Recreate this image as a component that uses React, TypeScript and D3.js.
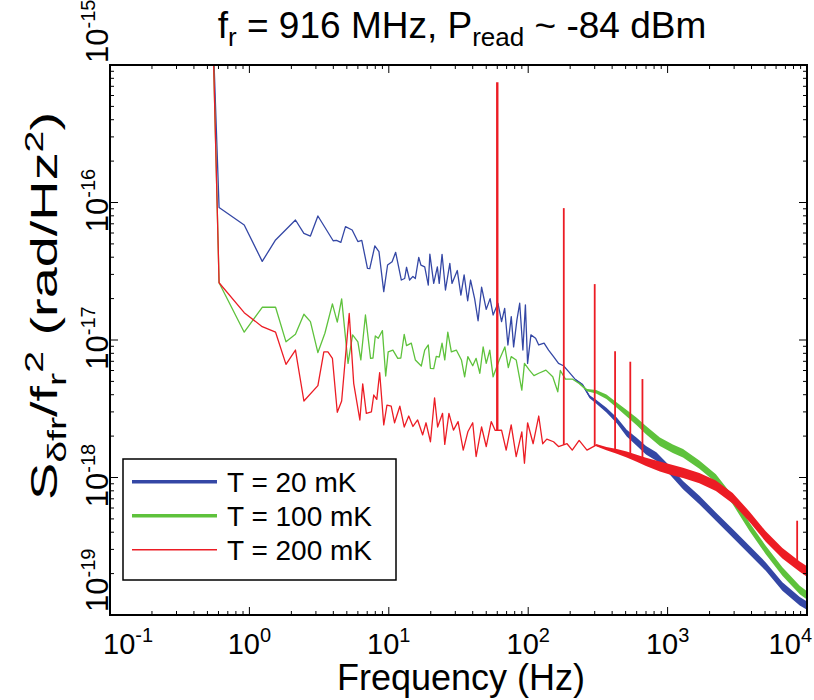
import React from 'react';
import * as d3 from 'd3';

const FONT = "'Liberation Sans', Arial, Helvetica, sans-serif";

// ---------- data ----------
const xTickExponents = [-1, 0, 1, 2, 3, 4];
const yTickExponents = [-19, -18, -17, -16, -15];
const seriesNames = ['T = 20 mK', 'T = 100 mK', 'T = 200 mK'];
const seriesColors = ['#3447a5', '#5ec23c', '#ec1c24'];

// T = 20 mK (blue): sparse low-frequency part
const blueFreq = [0.545, 0.606, 0.918, 1.236, 1.541, 2.14, 2.46, 2.74, 3.1, 3.99, 4.22, 4.53, 4.89, 5.46, 6.0, 6.4, 7.03, 7.3, 7.94, 8.5, 9.2, 9.8, 10.56, 11.2, 12.3, 13.0, 13.4, 14.1, 14.9, 15.5, 16.4, 17.0, 18.1, 19.2, 19.7, 21, 22.3, 23.0, 24.1, 25.5, 27.4, 28.4, 31.0, 32.9, 34.7, 36.8, 38.6, 41.3, 43.7, 46.3, 50.0, 53.3, 56.0, 60.7, 64.4, 67.8, 71.5, 75.6, 78.6, 83, 86.9, 91.6, 95.5, 99, 104.6, 113, 119, 130, 140, 152, 165, 179, 195];
const blueVal = [2e-15, 9.2e-17, 6.86e-17, 3.73e-17, 5.34e-17, 7.46e-17, 5.97e-17, 5.7e-17, 7.98e-17, 5.27e-17, 5.3e-17, 5.13e-17, 6.67e-17, 6.31e-17, 5.2e-17, 5.3e-17, 3.32e-17, 3.3e-17, 4.83e-17, 4.39e-17, 2.25e-17, 3.51e-17, 3.71e-17, 4.34e-17, 2.73e-17, 2.8e-17, 3.38e-17, 2.73e-17, 2.9e-17, 2.8e-17, 3.99e-17, 3.5e-17, 3.4e-17, 2.51e-17, 4.21e-17, 2.58e-17, 3.4e-17, 2.58e-17, 4.2e-17, 2.31e-17, 3.61e-17, 2.58e-17, 3.2e-17, 2.12e-17, 2.98e-17, 1.93e-17, 2.73e-17, 1.99e-17, 1.38e-17, 2.42e-17, 1.67e-17, 2.0e-17, 1.52e-17, 1.85e-17, 1.36e-17, 1.7e-17, 9.2e-18, 1.48e-17, 8.9e-18, 1.4e-17, 1.85e-17, 8.45e-18, 1.8e-17, 6.76e-18, 1.09e-17, 1.03e-17, 9.2e-18, 9.5e-18, 8.45e-18, 7.57e-18, 6.76e-18, 6.5e-18, 5.89e-18];
// blue: dense high-frequency part (centre of the noise band)
const blueDenseFreq = [219, 246, 276, 307, 364, 432, 509, 600, 700, 830, 980, 1290, 1690, 2220, 2930, 3860, 5060, 6660, 8870, 10000];
const blueDenseVal = [5.13e-18, 4.71e-18, 3.87e-18, 3.56e-18, 3.09e-18, 2.6e-18, 2.1e-18, 1.82e-18, 1.58e-18, 1.42e-18, 1.2e-18, 8.8e-19, 6.86e-19, 5.19e-19, 3.93e-19, 2.97e-19, 2.25e-19, 1.61e-19, 1.26e-19, 1.17e-19];

// T = 100 mK (green)
const greenFreq = [0.545, 0.606, 0.918, 1.236, 1.541, 1.83, 2.14, 2.46, 2.74, 3.1, 3.48, 3.94, 4.27, 4.59, 5.1, 5.5, 6.0, 6.3, 6.8, 7.4, 7.7, 8.0, 8.4, 9.0, 9.5, 9.9, 10.7, 11.6, 12.2, 12.9, 13.4, 14.5, 15.5, 17.1, 18.1, 19.2, 19.9, 21, 21.9, 23, 24.1, 25.2, 26.5, 28.1, 30.5, 33.2, 35.0, 36.9, 40.0, 42.3, 45, 47.5, 50, 53, 56, 62, 68, 72, 75.5, 82, 90, 94, 102, 110, 119, 134, 150, 163, 170, 185, 207];
const greenVal = [2e-15, 2.61e-17, 1.14e-17, 1.73e-17, 1.73e-17, 9.7e-18, 1.1e-17, 1.54e-17, 1.36e-17, 8.1e-18, 1.12e-17, 1.83e-17, 1.35e-17, 1.99e-17, 6.76e-18, 1.09e-17, 9.7e-18, 7.16e-18, 1.52e-17, 7.36e-18, 7.4e-18, 1.07e-17, 1.03e-17, 1.17e-17, 5.47e-18, 8.2e-18, 8.45e-18, 7.36e-18, 7.4e-18, 1.1e-17, 9.1e-18, 9.5e-18, 7.16e-18, 6.47e-18, 8.45e-18, 9.2e-18, 6.22e-18, 6.2e-18, 7.6e-18, 7.5e-18, 9.5e-18, 7.16e-18, 1.14e-17, 8.2e-18, 8.45e-18, 7.16e-18, 5.4e-18, 7.57e-18, 6.5e-18, 7.36e-18, 5.73e-18, 8.9e-18, 6.76e-18, 8.45e-18, 5.4e-18, 7.16e-18, 8.9e-18, 6.3e-18, 7.57e-18, 7.16e-18, 4.32e-18, 6.76e-18, 6.04e-18, 5.5e-18, 5.73e-18, 6.04e-18, 5.4e-18, 4.2e-18, 6.0e-18, 5.2e-18, 5.2e-18];
const greenDenseFreq = [232, 264, 307, 364, 432, 509, 600, 700, 880, 1090, 1290, 1690, 2220, 2930, 3860, 5060, 6660, 8870, 10000];
const greenDenseVal = [4.84e-18, 4.32e-18, 4.2e-18, 3.87e-18, 3.36e-18, 2.93e-18, 2.55e-18, 2.21e-18, 1.82e-18, 1.62e-18, 1.5e-18, 1.24e-18, 9.86e-19, 6.86e-19, 4.39e-19, 2.97e-19, 2.07e-19, 1.52e-19, 1.39e-19];

// T = 200 mK (red)
const redFreq = [0.545, 0.606, 0.918, 1.236, 1.541, 1.83, 2.14, 2.46, 3.1, 3.42, 3.66, 3.94, 4.27, 4.59, 5.2, 5.6, 6.2, 6.5, 6.9, 7.5, 7.8, 8.2, 8.6, 9.2, 9.7, 10.4, 11.0, 12.0, 12.9, 13.9, 14.9, 16.1, 17.5, 18.5, 19.9, 21.3, 22.4, 24.3, 25.2, 27, 29.1, 31.4, 34.2, 36.9, 40, 42.3, 46.3, 50, 54.3, 58, 64.4, 69.5, 75.5, 82, 90, 94, 99, 108.5, 119, 127, 136, 152, 165, 190, 207, 232, 264];
const redVal = [2e-15, 2.61e-17, 1.58e-17, 1.25e-17, 1.14e-17, 6.65e-18, 8.45e-18, 3.6e-18, 4.66e-18, 8.2e-18, 8.2e-18, 7.36e-18, 2.98e-18, 3.6e-18, 1.56e-17, 4.84e-18, 2.62e-18, 4.8e-18, 2.93e-18, 3.0e-18, 3.98e-18, 3.7e-18, 5.8e-18, 2.41e-18, 3.36e-18, 3.3e-18, 2.5e-18, 3.3e-18, 2.33e-18, 2.8e-18, 2.35e-18, 2.62e-18, 2.04e-18, 2.5e-18, 1.82e-18, 3.8e-18, 2.33e-18, 2.93e-18, 1.74e-18, 2.93e-18, 2.21e-18, 2.55e-18, 1.58e-18, 2.15e-18, 2.5e-18, 1.42e-18, 2.33e-18, 1.68e-18, 2.55e-18, 2.2e-18, 2.21e-18, 1.58e-18, 2.41e-18, 1.42e-18, 2.15e-18, 1.27e-18, 2.5e-18, 1.76e-18, 2.8e-18, 1.76e-18, 1.9e-18, 1.82e-18, 1.68e-18, 1.76e-18, 1.58e-18, 1.86e-18, 1.58e-18];
const redDenseFreq = [307, 364, 432, 509, 600, 700, 880, 1090, 1290, 1690, 2220, 2930, 3860, 5060, 6660, 8870, 10000];
const redDenseVal = [1.72e-18, 1.62e-18, 1.55e-18, 1.47e-18, 1.38e-18, 1.3e-18, 1.2e-18, 1.13e-18, 1.08e-18, 9.9e-19, 8.7e-19, 7.06e-19, 5.19e-19, 3.72e-19, 2.81e-19, 2.25e-19, 2.07e-19];
// narrow pickup lines in the 200 mK spectrum
const redSpikeFreq = [60, 180, 300, 420, 540, 660, 8500];
const redSpikePeak = [7.5e-16, 9.1e-17, 2.55e-17, 8.3e-18, 6.95e-18, 5.2e-18, 4.85e-19];

// ---------- chart ----------
type P = [number, number];
const zip = (a: number[], b: number[]): P[] => a.map((v, i) => [v, b[i]] as P);

export default function App() {
  const L = 110, R = 807, T = 65, B = 615;
  const x = d3.scaleLog().domain([0.1, 1e4]).range([L, R]);
  const y = d3.scaleLog().domain([1e-19, 1e-15]).range([B, T]);
  const line = d3.line<P>().x(d => x(d[0])).y(d => y(d[1]));

  const series = [
    { low: zip(blueFreq, blueVal), dense: zip(blueDenseFreq, blueDenseVal), w: 4.2 },
    { low: zip(greenFreq, greenVal), dense: zip(greenDenseFreq, greenDenseVal), w: 4.2 },
    { low: zip(redFreq, redVal), dense: zip(redDenseFreq, redDenseVal), w: 5.2 },
  ];

  const band = (w: number, f0: number) => {
    const hw = (f: number) => w * Math.max(0.2, Math.min(1, 0.2 + (Math.log10(f) - Math.log10(f0)) / 0.6));
    return d3.area<P>()
      .x(d => x(d[0]))
      .y0(d => y(d[1]) + hw(d[0]))
      .y1(d => y(d[1]) - hw(d[0]));
  };

  const redAll = [...series[2].low, ...series[2].dense];
  const interp = (pts: P[], f: number) => {
    for (let i = 0; i < pts.length - 1; i++) {
      const [f0, v0] = pts[i];
      const [f1, v1] = pts[i + 1];
      if (f >= f0 && f <= f1) {
        const t = (Math.log(f) - Math.log(f0)) / (Math.log(f1) - Math.log(f0));
        return Math.exp(Math.log(v0) + t * (Math.log(v1) - Math.log(v0)));
      }
    }
    return pts[pts.length - 1][1];
  };

  const xMajor = xTickExponents.map(e => Math.pow(10, e));
  const xMinor: number[] = [];
  xTickExponents.slice(0, -1).forEach(e => { for (let k = 2; k <= 9; k++) xMinor.push(k * Math.pow(10, e)); });
  const yMajor = yTickExponents.map(e => Math.pow(10, e));
  const yMinor: number[] = [];
  yTickExponents.slice(0, -1).forEach(e => { for (let k = 2; k <= 9; k++) yMinor.push(k * Math.pow(10, e)); });

  const majLen = 8, minLen = 4;

  return (
    <svg width={814} height={700} style={{ position: 'absolute', left: 0, top: 0, background: '#fff' }} fontFamily={FONT}>
      <defs>
        <clipPath id="plotClip"><rect x={L} y={T} width={R - L} height={B - T} /></clipPath>
      </defs>

      <g clipPath="url(#plotClip)">
        {series.map((s, i) => (
          <g key={i}>
            <path d={band(s.w, s.dense[0][0])(s.dense) || ''} fill={seriesColors[i]} />
            <path d={line([...s.low, ...s.dense]) || ''} fill="none" stroke={seriesColors[i]} strokeWidth={1.3} strokeLinejoin="round" />
            {i === 2 && redSpikeFreq.map((f, j) => (
              <line key={j} x1={x(f)} x2={x(f)} y1={y(interp(redAll, f))} y2={y(redSpikePeak[j])}
                stroke={seriesColors[2]} strokeWidth={j === 0 ? 2.4 : 1.8} />
            ))}
          </g>
        ))}
      </g>

      {/* ticks */}
      <g stroke="#000" strokeWidth={1}>
        {xMajor.map((v, i) => (
          <g key={'xm' + i}>
            <line x1={x(v)} x2={x(v)} y1={B} y2={B - majLen} />
            <line x1={x(v)} x2={x(v)} y1={T} y2={T + majLen} />
          </g>
        ))}
        {xMinor.map((v, i) => (
          <g key={'xn' + i}>
            <line x1={x(v)} x2={x(v)} y1={B} y2={B - minLen} />
            <line x1={x(v)} x2={x(v)} y1={T} y2={T + minLen} />
          </g>
        ))}
        {yMajor.map((v, i) => (
          <g key={'ym' + i}>
            <line x1={L} x2={L + majLen} y1={y(v)} y2={y(v)} />
            <line x1={R} x2={R - majLen} y1={y(v)} y2={y(v)} />
          </g>
        ))}
        {yMinor.map((v, i) => (
          <g key={'yn' + i}>
            <line x1={L} x2={L + minLen} y1={y(v)} y2={y(v)} />
            <line x1={R} x2={R - minLen} y1={y(v)} y2={y(v)} />
          </g>
        ))}
      </g>
      <rect x={L} y={T} width={R - L} height={B - T} fill="none" stroke="#000" strokeWidth={2} />

      {/* x tick labels */}
      {xTickExponents.map((e, i) => {
        const first = i === 0, last = i === xTickExponents.length - 1;
        const px = first ? 103 : last ? 812 : x(Math.pow(10, e));
        return (
          <text key={'xl' + i} x={px} y={654} fontSize={29} textAnchor={first ? 'start' : last ? 'end' : 'middle'}>
            10<tspan dy={-12} fontSize={20}>{e}</tspan>
          </text>
        );
      })}

      {/* y tick labels (rotated) */}
      {yTickExponents.map((e, i) => {
        const first = i === 0, last = i === yTickExponents.length - 1;
        const py = first ? 612 : last ? 63 : y(Math.pow(10, e)) - 2;
        return (
          <text key={'yl' + i} transform={`translate(108,${py}) rotate(-90)`} fontSize={31}
            textAnchor={first || last ? 'start' : 'middle'}>
            10<tspan dy={-13} fontSize={20}>{e}</tspan>
          </text>
        );
      })}

      {/* title */}
      <text x={462} y={38} fontSize={37} textAnchor="middle">
        f<tspan dy={8} fontSize={26}>r</tspan><tspan dy={-8}> = 916 MHz, P</tspan><tspan dy={8} fontSize={26}>read</tspan><tspan dy={-8}> ~ -84 dBm</tspan>
      </text>

      {/* x label */}
      <text x={461} y={690} fontSize={36} textAnchor="middle">Frequency (Hz)</text>

      {/* y label */}
      <text transform="translate(57,306) rotate(-90)" fontSize={37} textAnchor="middle"
        textLength={388} lengthAdjust="spacingAndGlyphs">
        S<tspan dy={9} fontSize={26}>δfr</tspan><tspan dy={-9}>/f</tspan><tspan dy={9} fontSize={26}>r</tspan><tspan dy={-23} fontSize={26}>2</tspan><tspan dy={14}> (rad/Hz</tspan><tspan dy={-14} fontSize={26}>2</tspan><tspan dy={14}>)</tspan>
      </text>

      {/* legend */}
      <g>
        <rect x={123} y={459} width={273} height={121} fill="#fff" stroke="#000" strokeWidth={1.5} />
        {seriesNames.map((name, i) => {
          const ly = 481.7 + i * 34;
          return (
            <g key={'lg' + i}>
              <line x1={132} x2={217} y1={ly} y2={ly} stroke={seriesColors[i]} strokeWidth={i === 2 ? 1.5 : 3.5} />
              <text x={227} y={ly + 10} fontSize={28}>{name}</text>
            </g>
          );
        })}
      </g>
    </svg>
  );
}
